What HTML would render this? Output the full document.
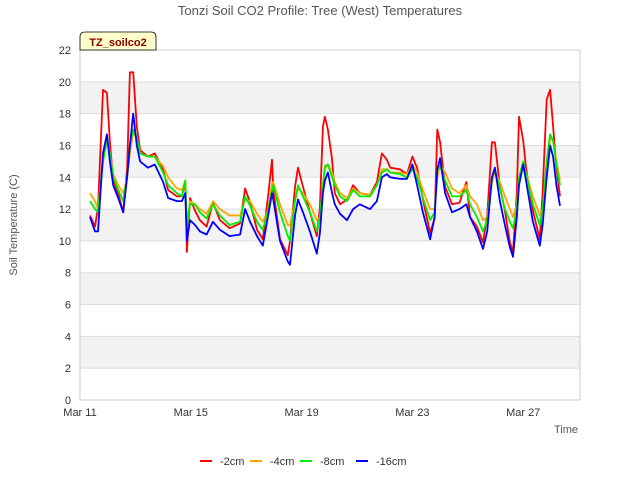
<!DOCTYPE html>
<html><head><meta charset="utf-8"><style>
body{margin:0;background:#fff;}
svg text{font-family:"Liberation Sans","DejaVu Sans",sans-serif;}
</style></head><body>
<svg id="chart" width="640" height="480" viewBox="0 0 640 480" xmlns="http://www.w3.org/2000/svg">
<rect width="640" height="480" fill="#fff"/>
<g id="bands"></g>
<g id="grid"></g>
<rect x="80" y="50" width="500" height="350" fill="none" stroke="#ccc"/>
<g id="yt"></g><g id="xt"></g>
<g id="series"></g>
<text x="320" y="15" text-anchor="middle" font-size="13" fill="#555">Tonzi Soil CO2 Profile: Tree (West) Temperatures</text>
<text transform="translate(17,225) rotate(-90)" text-anchor="middle" font-size="11" fill="#555">Soil Temperature (C)</text>
<text x="578" y="433" text-anchor="end" font-size="11" fill="#555">Time</text>
<g>
<path d="M80,50 L80,37 Q80,32 85,32 L151,32 Q156,32 156,37 L156,50 Z" fill="#ffffcc" stroke="#000" stroke-width="0.8"/>
<text x="118" y="46" text-anchor="middle" font-size="11" font-weight="bold" fill="#8b0000">TZ_soilco2</text>
</g>
<g id="legend"></g>
</svg>
<script>
const times=[0.36,0.54,0.65,0.83,0.97,1.08,1.2,1.38,1.56,1.7,1.8,1.92,2.05,2.17,2.45,2.7,3.0,3.18,3.5,3.68,3.8,3.86,3.97,4.15,4.33,4.57,4.8,5.05,5.4,5.78,5.96,6.14,6.39,6.6,6.8,6.93,6.98,7.22,7.5,7.58,7.76,7.87,8.05,8.3,8.55,8.66,8.77,8.84,8.95,9.1,9.2,9.39,9.64,9.86,10.1,10.47,10.72,10.9,11.08,11.2,11.55,11.8,12.0,12.17,12.38,12.64,12.8,12.9,13.0,13.18,13.43,13.7,13.95,14.08,14.33,14.55,14.7,14.87,14.98,15.16,15.34,15.52,15.63,15.77,15.85,16.0,16.1,16.35,16.6,16.7,16.85,16.97,17.08,17.2,17.33];
const s2=[11.6,10.9,12.1,19.5,19.3,16.2,13.8,13.0,11.8,14.5,20.6,20.6,17.2,15.7,15.3,15.5,14.5,13.2,12.8,12.8,13.7,9.3,12.7,11.9,11.3,10.9,12.4,11.3,10.8,11.1,13.3,12.4,10.7,10.1,13.0,15.1,13.2,10.1,9.1,10.0,13.4,14.6,13.4,11.8,10.3,12.1,17.2,17.8,17.0,15.1,13.0,12.3,12.6,13.5,13.0,12.9,13.7,15.5,15.1,14.6,14.5,14.2,15.3,14.6,12.6,10.5,11.4,17.0,16.2,13.4,12.3,12.4,13.7,11.5,10.9,9.9,11.6,16.2,16.2,13.4,11.9,9.9,9.3,13.0,17.8,16.3,14.6,11.9,10.1,13.0,18.9,19.5,17.2,14.6,12.8];
const s4=[13.0,12.5,12.0,15.0,16.5,15.5,14.2,13.5,13.0,14.0,15.5,16.8,16.5,15.5,15.3,15.3,14.7,14.0,13.3,13.2,13.8,11.0,12.5,12.3,12.0,11.7,12.5,12.0,11.6,11.6,12.6,12.5,11.7,11.2,12.0,13.6,13.7,12.3,11.0,11.0,12.5,13.3,13.0,12.3,11.3,11.5,13.5,14.5,14.8,14.3,13.7,13.0,12.7,13.3,13.0,12.9,13.5,14.5,14.5,14.3,14.3,14.2,14.8,14.3,13.2,12.0,12.0,14.0,14.8,14.3,13.3,13.0,13.5,12.8,12.3,11.3,11.5,13.6,14.4,13.7,12.8,12.0,11.5,12.3,14.0,14.7,14.3,12.8,11.6,12.0,14.5,16.5,16.3,15.0,13.8];
const s8=[12.5,12.0,11.8,15.0,16.3,15.5,14.0,13.2,12.5,14.0,16.0,17.0,16.5,15.5,15.3,15.3,14.3,13.5,13.0,12.8,13.8,10.8,12.3,12.3,11.8,11.4,12.3,11.6,11.0,11.2,12.8,12.2,11.2,10.7,12.0,13.2,13.5,11.8,10.3,10.0,12.5,13.5,12.8,11.8,10.6,11.5,13.5,14.7,14.8,14.0,13.5,12.8,12.5,13.2,12.8,12.8,13.5,14.3,14.5,14.3,14.2,14.0,14.5,14.0,12.7,11.3,11.8,14.5,14.7,13.8,12.8,12.8,13.2,12.3,11.5,10.6,11.3,13.9,14.5,13.3,12.0,11.2,10.8,12.0,14.0,15.0,14.2,12.3,11.0,12.0,15.0,16.7,16.3,14.8,13.5];
const s16=[11.5,10.6,10.6,15.5,16.7,15.0,13.5,12.7,11.8,14.0,16.0,18.0,16.0,15.0,14.6,14.8,13.7,12.7,12.5,12.5,13.0,10.0,11.3,11.0,10.6,10.4,11.2,10.7,10.3,10.4,12.0,11.2,10.3,9.7,11.7,13.0,12.6,10.0,8.7,8.5,11.6,12.6,11.8,10.6,9.2,10.5,13.0,13.8,14.3,13.0,12.3,11.7,11.3,12.0,12.3,12.0,12.5,14.0,14.2,14.0,13.9,13.9,14.8,13.5,11.8,10.1,11.5,14.5,15.2,13.0,11.8,12.0,12.3,11.5,10.6,9.5,10.6,14.0,14.6,12.5,11.0,9.6,9.0,11.5,13.5,14.8,13.8,11.2,9.7,11.0,14.0,16.0,15.3,13.5,12.2];
const yTicks=[0,2,4,6,8,10,12,14,16,18,20,22];
const xTickDays=[0,4,8,12,16];
const xTickLabels=["Mar 11","Mar 15","Mar 19","Mar 23","Mar 27"];
const seriesNames=["-2cm","-4cm","-8cm","-16cm"];
const seriesColors=["#ff0000","#ffa500","#00ee00","#0000ff"];
const NS="http://www.w3.org/2000/svg";
const X=d=>80+d*27.7, Y=v=>400-v*350/22;
const bands=document.getElementById('bands'),grid=document.getElementById('grid'),yt=document.getElementById('yt'),xt=document.getElementById('xt');
for(let i=0;i+1<yTicks.length;i++){
 if(i%2===1){const r=document.createElementNS(NS,'rect');
  r.setAttribute('x',80);r.setAttribute('y',Y(yTicks[i+1]));r.setAttribute('width',500);r.setAttribute('height',Y(yTicks[i])-Y(yTicks[i+1]));r.setAttribute('fill','#f2f2f2');
  
  
  bands.appendChild(r);}
}
yTicks.forEach(v=>{
 const l=document.createElementNS(NS,'line');l.setAttribute('x1',80);l.setAttribute('x2',580);l.setAttribute('y1',Y(v));l.setAttribute('y2',Y(v));l.setAttribute('stroke','#ddd');
 
 
 grid.appendChild(l);
 const t=document.createElementNS(NS,'text');t.setAttribute('x',71);t.setAttribute('y',Y(v)+4);t.setAttribute('text-anchor','end');t.setAttribute('font-size','11');t.setAttribute('fill','#333');t.textContent=v;
 
 
 yt.appendChild(t);
});
xTickDays.forEach((d,i)=>{
 const t=document.createElementNS(NS,'text');t.setAttribute('x',X(d));t.setAttribute('y',416);t.setAttribute('text-anchor','middle');t.setAttribute('font-size','11');t.setAttribute('fill','#333');t.textContent=xTickLabels[i];
 
 
 xt.appendChild(t);
});
const ser=document.getElementById('series');
[s2,s4,s8,s16].forEach((s,k)=>{
 const p=document.createElementNS(NS,'polyline');
 p.setAttribute('points',s.map((v,i)=>X(times[i]).toFixed(1)+','+Y(v).toFixed(1)).join(' '));
 p.setAttribute('fill','none');p.setAttribute('stroke',seriesColors[k]);p.setAttribute('stroke-width','1.8');p.setAttribute('stroke-linejoin','round');
 
 
 ser.appendChild(p);
});
const lg=document.getElementById('legend');
const lx=[200,250,300,356];
seriesNames.forEach((n,k)=>{
 const g=document.createElementNS(NS,'g');
 
 
 const l=document.createElementNS(NS,'line');l.setAttribute('x1',lx[k]);l.setAttribute('x2',lx[k]+12);l.setAttribute('y1',461);l.setAttribute('y2',461);l.setAttribute('stroke',seriesColors[k]);l.setAttribute('stroke-width','2');
 const t=document.createElementNS(NS,'text');t.setAttribute('x',lx[k]+20);t.setAttribute('y',465);t.setAttribute('font-size','11');t.setAttribute('fill','#333');t.textContent=n;
 g.appendChild(l);g.appendChild(t);lg.appendChild(g);
});
</script>
</body></html>
